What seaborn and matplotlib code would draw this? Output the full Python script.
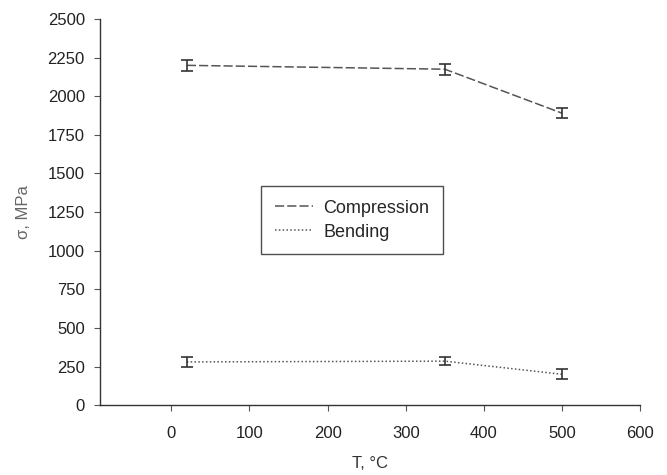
import numpy as np
import pandas as pd
import matplotlib
matplotlib.use('Agg')
import matplotlib.pyplot as plt
import seaborn as sns

# data
temperature = [20, 350, 500]
compression = [2200, 2175, 1890]
compression_err = [35, 35, 32]
bending = [280, 285, 200]
bending_err = [32, 28, 32]

df = pd.DataFrame({
    'T': temperature * 2,
    'sigma': compression + bending,
    'test': ['Compression'] * 3 + ['Bending'] * 3,
})

sns.set_style('ticks')
plt.rcParams['font.family'] = ['Liberation Sans', 'DejaVu Sans']

fig = plt.figure(figsize=(6.67, 4.75), dpi=100)
ax = fig.add_axes([0.150, 0.147, 0.810, 0.813])

sns.lineplot(data=df, x='T', y='sigma', hue='test', style='test',
             palette={'Compression': '#555555', 'Bending': '#555555'},
             dashes={'Compression': (6, 2), 'Bending': (1, 1.5)},
             linewidth=1.1, ax=ax, legend=True)

ax.errorbar(temperature, compression, yerr=compression_err, fmt='none',
            ecolor='#333333', elinewidth=1.2, capsize=4, capthick=1.2)
ax.errorbar(temperature, bending, yerr=bending_err, fmt='none',
            ecolor='#333333', elinewidth=1.2, capsize=4, capthick=1.2)

ax.set_xlim(-91, 600)
ax.set_ylim(0, 2500)
ax.set_xticks(np.arange(0, 601, 100))
ax.set_yticks(np.arange(0, 2501, 250))
ax.tick_params(axis='both', labelsize=12, length=4, color='#555555', labelcolor='#222222')
ax.tick_params(axis='x', pad=11)
ax.tick_params(axis='y', pad=7)
for s in ['left', 'bottom']:
    ax.spines[s].set_color('#333333')
    ax.spines[s].set_linewidth(1.0)
sns.despine(ax=ax)

ax.set_xlabel('T, °C', fontsize=12, color='#333333', labelpad=11)
ax.set_ylabel('σ, MPa', fontsize=12, color='#666666', labelpad=12)

leg = ax.legend(title=None, loc='upper left', bbox_to_anchor=(0.298, 0.567),
                fontsize=13, frameon=True, fancybox=False, handlelength=2.1,
                handletextpad=0.6, borderpad=0.75, labelspacing=0.38,
                borderaxespad=0)
leg.get_frame().set_edgecolor('#222222')
leg.get_frame().set_linewidth(1.0)

fig.savefig('out.png', dpi=100)
